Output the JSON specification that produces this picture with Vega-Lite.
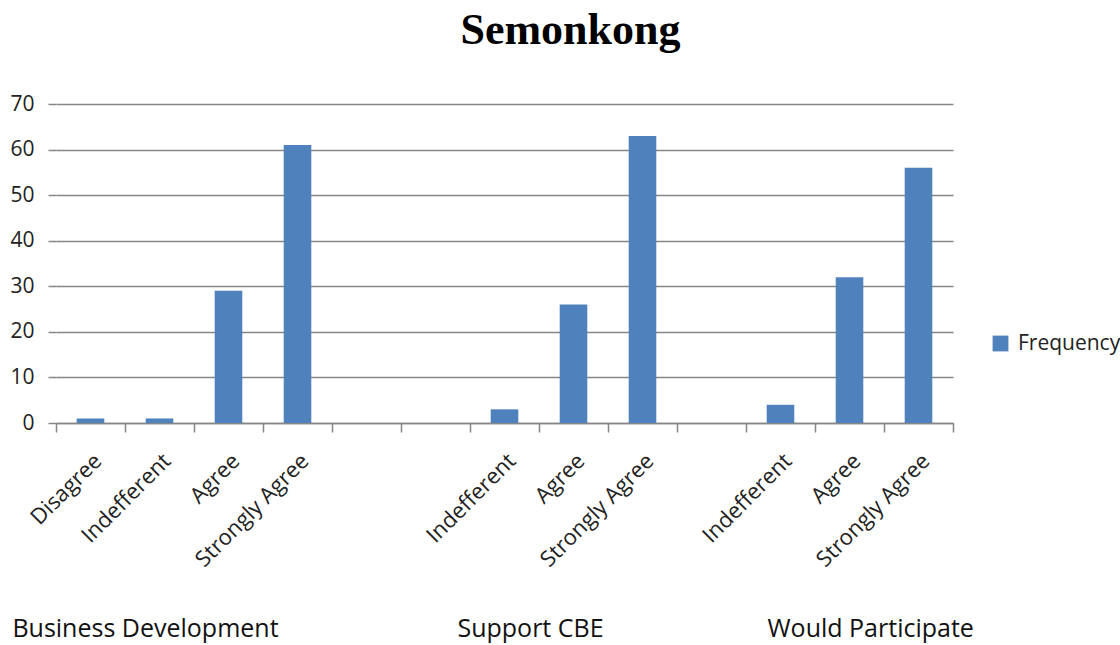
{
  "$schema": "https://vega.github.io/schema/vega-lite/v6.json",
  "width": 897,
  "height": 319,
  "autosize": {"type": "none"},
  "padding": {"left": 56, "top": 104, "right": 167, "bottom": 222},
  "background": "white",
  "title": {"text": "Semonkong", "font": "Liberation Serif", "fontSize": 44, "fontWeight": "bold", "color": "#000000", "anchor": "middle", "frame": "group", "dx": 66, "offset": 40},
  "config": {"view": {"stroke": null}, "font": "Open Sans"},
  "layer": [
    {
      "data": {"values": [
        {"slot": "Business Development|Disagree", "series": "Frequency", "Frequency": 1},
        {"slot": "Business Development|Indefferent", "series": "Frequency", "Frequency": 1},
        {"slot": "Business Development|Agree", "series": "Frequency", "Frequency": 29},
        {"slot": "Business Development|Strongly Agree", "series": "Frequency", "Frequency": 61},
        {"slot": "Support CBE|Indefferent", "series": "Frequency", "Frequency": 3},
        {"slot": "Support CBE|Agree", "series": "Frequency", "Frequency": 26},
        {"slot": "Support CBE|Strongly Agree", "series": "Frequency", "Frequency": 63},
        {"slot": "Would Participate|Indefferent", "series": "Frequency", "Frequency": 4},
        {"slot": "Would Participate|Agree", "series": "Frequency", "Frequency": 32},
        {"slot": "Would Participate|Strongly Agree", "series": "Frequency", "Frequency": 56}
      ]},
      "mark": {"type": "bar", "width": {"band": 0.4}},
      "encoding": {
        "x": {
          "field": "slot", "type": "nominal", "sort": null,
          "scale": {"domain": [
            "Business Development|Disagree", "Business Development|Indefferent", "Business Development|Agree", "Business Development|Strongly Agree",
            "gap1|", "gap2|",
            "Support CBE|Indefferent", "Support CBE|Agree", "Support CBE|Strongly Agree",
            "gap3|",
            "Would Participate|Indefferent", "Would Participate|Agree", "Would Participate|Strongly Agree"
          ], "paddingInner": 0, "paddingOuter": 0},
          "axis": {"orient": "bottom", "title": null, "labelExpr": "split(datum.value, '|')[1]", "labelAngle": -45, "labelFontSize": 22, "labelColor": "#222222", "labelPadding": 18, "labelLimit": 400, "tickBand": "extent", "tickSize": 9, "tickColor": "#868686", "tickWidth": 1.5, "domainColor": "#868686", "domainWidth": 1.5, "grid": false, "labelFont": "Open Sans"}
        },
        "y": {
          "field": "Frequency", "type": "quantitative",
          "scale": {"domain": [0, 70]},
          "axis": {"title": null, "values": [0, 10, 20, 30, 40, 50, 60, 70], "grid": true, "gridColor": "#868686", "gridWidth": 1.5, "domain": false, "ticks": true, "tickSize": 8, "tickColor": "#868686", "tickWidth": 1.5, "labelFontSize": 21, "labelPadding": 14, "labelColor": "#222222", "labelFont": "Open Sans"}
        },
        "color": {
          "field": "series", "type": "nominal",
          "scale": {"range": ["#4F81BD"]},
          "legend": {"title": null, "orient": "none", "legendX": 934, "legendY": 229, "padding": 0, "symbolType": "square", "symbolSize": 250, "symbolStrokeWidth": 0, "labelFontSize": 21, "labelColor": "#222222", "labelFont": "Open Sans", "labelOffset": 7}
        }
      }
    },
    {
      "data": {"values": [
        {"group": "Business Development", "pos": 1.29},
        {"group": "Support CBE", "pos": 6.87},
        {"group": "Would Participate", "pos": 11.8}
      ]},
      "mark": {"type": "point", "opacity": 0},
      "encoding": {
        "x": {
          "field": "pos", "type": "quantitative",
          "scale": {"domain": [0, 13]},
          "axis": {"orient": "bottom", "title": null, "values": [1.29, 6.87, 11.8], "labelExpr": "datum.value < 3 ? 'Business Development' : datum.value < 9 ? 'Support CBE' : 'Would Participate'", "ticks": false, "domain": false, "grid": false, "offset": 189, "labelPadding": 4, "labelFontSize": 25, "labelLimit": 500, "labelColor": "#111111", "labelFont": "Open Sans", "labelFlush": false, "labelOverlap": false}
        }
      }
    }
  ],
  "resolve": {"scale": {"x": "independent"}, "axis": {"x": "independent"}}
}
